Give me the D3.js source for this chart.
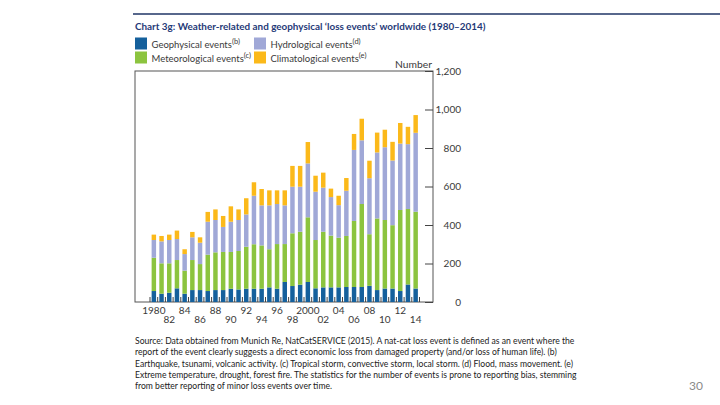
<!DOCTYPE html>
<html>
<head>
<meta charset="utf-8">
<script src="https://cdn.jsdelivr.net/npm/d3@7"></script>
<style>
  body { margin: 0; background: #fff; }
  svg { display: block; font-family: Lato, "Open Sans", sans-serif; }
</style>
</head>
<body>
<svg id="chart" width="720" height="405"></svg>
<script>
// Years on the x axis
var years = [1980, 1981, 1982, 1983, 1984, 1985, 1986, 1987, 1988, 1989,
             1990, 1991, 1992, 1993, 1994, 1995, 1996, 1997, 1998, 1999,
             2000, 2001, 2002, 2003, 2004, 2005, 2006, 2007, 2008, 2009,
             2010, 2011, 2012, 2013, 2014];

// Number of loss events per year, by type
var geophysical    = [57, 43, 48, 71, 43, 62, 62, 57, 62, 62,
                      69, 65, 69, 69, 69, 76, 69, 104, 83, 90,
                      104, 71, 76, 76, 76, 78, 78, 78, 84, 62,
                      70, 70, 57, 91, 70];
var meteorological = [173, 158, 153, 147, 120, 156, 135, 189, 196, 198,
                      191, 200, 218, 231, 225, 198, 232, 197, 274, 275,
                      336, 251, 289, 269, 258, 265, 343, 431, 268, 372,
                      356, 329, 421, 392, 399];
var hydrological   = [92, 114, 121, 109, 86, 118, 111, 171, 168, 130,
                      157, 161, 168, 252, 208, 228, 208, 201, 242, 234,
                      280, 251, 229, 200, 169, 235, 369, 331, 291, 343,
                      378, 336, 345, 337, 410];
var climatological = [28, 28, 28, 44, 25, 28, 28, 51, 55, 57,
                      80, 55, 84, 70, 85, 78, 71, 78, 108, 108,
                      111, 83, 78, 44, 49, 66, 83, 112, 91, 103,
                      91, 97, 107, 90, 92];

// Axis ticks
var yTicks = [0, 200, 400, 600, 800, 1000, 1200];
var xTickYears = [1980, 1982, 1984, 1986, 1988, 1990, 1992, 1994, 1996, 1998,
                  2000, 2002, 2004, 2006, 2008, 2010, 2012, 2014];
var xTickLabels = ["1980", "82", "84", "86", "88", "90", "92", "94", "96", "98",
                   "2000", "02", "04", "06", "08", "10", "12", "14"];

// Legend
var seriesKeys = ["geophysical", "meteorological", "hydrological", "climatological"];
var seriesLabels = ["Geophysical events", "Meteorological events", "Hydrological events", "Climatological events"];
var seriesNotes = ["(b)", "(c)", "(d)", "(e)"];

var titleText = "Chart 3g:  Weather-related and geophysical \u2018loss events\u2019 worldwide (1980\u20132014)";
var sourceLines = [
  "Source: Data obtained from Munich Re, NatCatSERVICE (2015). A nat-cat loss event is defined as an event where the",
  "report of the event clearly suggests a direct economic loss from damaged property (and/or loss of human life).  (b)",
  "Earthquake, tsunami, volcanic activity. (c) Tropical storm, convective storm, local storm. (d) Flood, mass movement. (e)",
  "Extreme temperature, drought, forest fire. The statistics for the number of events is prone to reporting bias, stemming",
  "from better reporting of minor loss events over time."
];
var pageNumber = "30";

var colors = {
  geophysical: "#15609c",
  meteorological: "#8cc43f",
  hydrological: "#a0a8d7",
  climatological: "#fbb91a"
};

var svg = d3.select("#chart");

var plot = {left: 135, right: 433, top: 71, bottom: 302};

var x = d3.scaleBand()
    .domain(years)
    .range([150, 419.5])
    .paddingInner(0.42)
    .paddingOuter(0.21);

var y = d3.scaleLinear()
    .domain([0, 1200])
    .range([plot.bottom, plot.top]);

// rows for d3.stack
var rows = years.map(function (yr, i) {
    return {
        year: yr,
        geophysical: geophysical[i],
        meteorological: meteorological[i],
        hydrological: hydrological[i],
        climatological: climatological[i]
    };
});
var stacked = d3.stack().keys(seriesKeys)(rows);

// title rule and title
svg.append("line")
    .attr("x1", 133).attr("x2", 720)
    .attr("y1", 14).attr("y2", 14)
    .attr("stroke", "#1f3566")
    .attr("stroke-width", 1.5);

svg.append("text")
    .attr("x", 135)
    .attr("y", 29.5)
    .attr("font-size", "9.9px")
    .attr("font-weight", "bold")
    .attr("fill", "#1f3a78")
    .text(titleText);

// legend
var legend = svg.append("g").attr("class", "legend");
var legendPos = [[135, 37.5], [135, 51.5], [254, 37.5], [254, 51.5]];
seriesKeys.forEach(function (k, i) {
    var p = legendPos[i];
    var item = legend.append("g").attr("transform", "translate(" + p + ")");
    item.append("rect")
        .attr("width", 12).attr("height", 12)
        .attr("fill", colors[k]);
    var t = item.append("text")
        .attr("x", 16.5)
        .attr("y", 10)
        .attr("font-size", "9.5px")
        .attr("fill", "#3a3a3a");
    t.append("tspan").text(seriesLabels[i]);
    t.append("tspan")
        .attr("dy", -4)
        .attr("font-size", "7.5px")
        .text(seriesNotes[i]);
});

// plot frame
svg.append("rect")
    .attr("x", plot.left)
    .attr("y", plot.top)
    .attr("width", plot.right - plot.left)
    .attr("height", plot.bottom - plot.top)
    .attr("fill", "none")
    .attr("stroke", "#555")
    .attr("stroke-width", 1);

// bars
var layers = svg.append("g").attr("class", "bars")
    .selectAll("g")
    .data(stacked)
    .enter()
    .append("g")
    .attr("fill", function (d) { return colors[d.key]; });

layers.selectAll("rect")
    .data(function (d) { return d; })
    .enter()
    .append("rect")
    .attr("x", function (d) { return x(d.data.year); })
    .attr("width", x.bandwidth())
    .attr("y", function (d) { return y(d[1]); })
    .attr("height", function (d) { return y(d[0]) - y(d[1]); });

// small ticks between the bars
var gap = (x.step() - x.bandwidth()) / 2;
var bounds = years.map(function (yr) { return x(yr) - gap; });
bounds.push(x(years[years.length - 1]) + x.bandwidth() + gap);
svg.append("g").attr("class", "x-ticks")
    .selectAll("line")
    .data(bounds)
    .enter()
    .append("line")
    .attr("x1", function (d) { return d; })
    .attr("x2", function (d) { return d; })
    .attr("y1", plot.bottom)
    .attr("y2", plot.bottom - 5)
    .attr("stroke", "#444")
    .attr("stroke-width", 1);

// x axis labels, staggered on two rows
var xAxis = d3.axisBottom(x)
    .tickValues(xTickYears)
    .tickSize(0)
    .tickFormat(function (d) { return xTickLabels[xTickYears.indexOf(d)]; });

var gx = svg.append("g")
    .attr("transform", "translate(0," + plot.bottom + ")")
    .call(xAxis);
gx.select(".domain").remove();
gx.selectAll(".tick line").remove();
gx.selectAll("text")
    .attr("font-family", "Lato, sans-serif")
    .attr("font-size", "10px")
    .attr("fill", "#3a3a3a")
    .attr("dy", null)
    .attr("y", function (d, i) { return i % 2 === 0 ? 11.5 : 20.5; });

// y axis on the right, ticks pointing into the plot
var yAxis = d3.axisRight(y)
    .tickValues(yTicks)
    .tickFormat(d3.format(","))
    .tickSizeInner(-8)
    .tickSizeOuter(0)
    .tickPadding(28);

var gy = svg.append("g")
    .attr("transform", "translate(" + plot.right + ",0)")
    .call(yAxis);
gy.select(".domain").remove();
gy.selectAll(".tick line").attr("stroke", "#444");
gy.selectAll("text")
    .attr("text-anchor", "end")
    .attr("font-family", "Lato, sans-serif")
    .attr("font-size", "10px")
    .attr("fill", "#3a3a3a");

svg.append("text")
    .attr("x", plot.right - 1)
    .attr("y", 68)
    .attr("text-anchor", "end")
    .attr("font-size", "10.3px")
    .attr("fill", "#3a3a3a")
    .text("Number");

// source note
svg.append("g").attr("class", "source")
    .selectAll("text")
    .data(sourceLines)
    .enter()
    .append("text")
    .attr("x", 135)
    .attr("y", function (d, i) { return 344 + i * 11.3; })
    .attr("font-size", "8.6px")
    .attr("fill", "#222")
    .text(function (d) { return d; });

svg.append("text")
    .attr("x", 703)
    .attr("y", 390)
    .attr("text-anchor", "end")
    .attr("font-size", "12px")
    .attr("fill", "#8a8a8a")
    .text(pageNumber);
</script>
</body>
</html>
